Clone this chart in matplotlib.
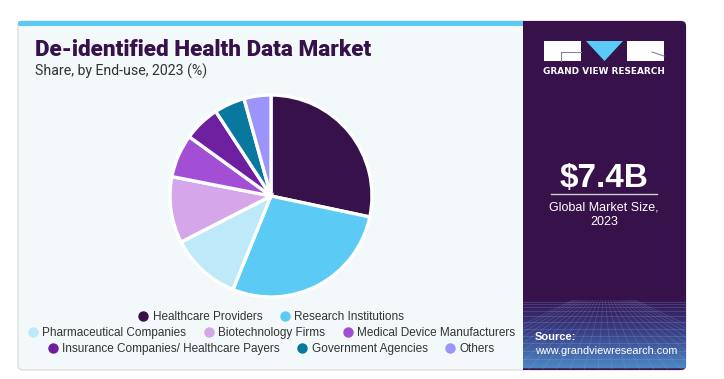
import numpy as np
import matplotlib.pyplot as plt
from matplotlib.patches import Rectangle, FancyBboxPatch, Polygon
from matplotlib.lines import Line2D
from matplotlib.colors import LinearSegmentedColormap

# data (share %)
segments = ["Healthcare Providers", "Research Institutions", "Pharmaceutical Companies",
            "Biotechnology Firms", "Medical Device Manufacturers",
            "Insurance Companies/ Healthcare Payers", "Government Agencies", "Others"]
shares = [28.3, 27.8, 11.3, 10.6, 6.9, 5.8, 4.9, 4.3]
colors = ["#37114A", "#5BCBF5", "#BDE9F9", "#D5A6EA", "#A24FD6", "#6E1FA0", "#08789E", "#9B94FA"]
legend_rows = [[0, 1], [2, 3, 4], [5, 6, 7]]

W, H = 724, 379
plt.rcParams['font.family'] = ['Liberation Sans', 'DejaVu Sans']
fig = plt.figure(figsize=(W / 100, H / 100), dpi=100)
fig.patch.set_facecolor("white")

# background layer in pixel coords
bg = fig.add_axes([0, 0, 1, 1])
bg.set_xlim(0, W)
bg.set_ylim(H, 0)
bg.axis("off")

bg.add_patch(FancyBboxPatch((18, 21), 668, 349, boxstyle="round,pad=0,rounding_size=5",
                            fc="#F3F8FB", ec="#D4D8DC", lw=0.8))
panel = FancyBboxPatch((523, 21), 163, 349, boxstyle="round,pad=0,rounding_size=5",
                       fc="#37114A", ec="none")
bg.add_patch(panel)
bg.add_patch(Rectangle((523, 21), 10, 349, fc="#37114A", ec="none"))
bg.add_patch(FancyBboxPatch((18, 21), 505, 5, boxstyle="round,pad=0,rounding_size=2",
                            fc="#5BCBF5", ec="none"))
bg.add_patch(Rectangle((30, 21), 493, 5, fc="#5BCBF5", ec="none"))

# bottom gradient of the side panel
clip = Rectangle((523, 290), 163, 80, transform=bg.transData)
cmap = LinearSegmentedColormap.from_list("g", ["#37114A", "#3B3F86", "#4C86C4"])
grad = np.linspace(0, 1, 100).reshape(-1, 1)
im = bg.imshow(grad, extent=(523, 686, 368, 296), cmap=cmap, aspect="auto", zorder=1)
for k in range(12):
    yy = 302 + 66 * (k / 11) ** 1.5
    ln, = bg.plot([523, 686], [yy, yy], color="#8FB6E6", lw=0.5, alpha=0.3, zorder=2)
    ln.set_clip_path(clip)
for xx in np.linspace(430, 780, 26):
    ln, = bg.plot([604, xx], [285, 370], color="#8FB6E6", lw=0.5, alpha=0.25, zorder=2)
    ln.set_clip_path(clip)
bg.add_patch(Rectangle((523, 282), 163, 18, fc="#37114A", ec="none", zorder=2))

# titles
bg.text(35, 50, "De-identified Health Data Market", fontsize=16.2, fontweight="heavy",
        color="#37114A", va="center", ha="left", family=["Roboto", "DejaVu Sans"])
bg.text(35, 71, "Share, by End-use, 2023 (%)", fontsize=10.2, color="#333333",
        va="center", ha="left", family=["Roboto", "DejaVu Sans"])

# logo
bg.add_patch(Rectangle((544, 41), 37, 20, fc="white", ec="none", zorder=3))
bg.add_patch(Polygon([[586, 41], [623, 41], [604.5, 61]], fc="#5BCBF5", ec="none", zorder=3))
bg.add_patch(Rectangle((627, 41), 37, 20, fc="white", ec="none", zorder=3))
bg.plot([561, 581], [52, 52], color="#8A7F98", lw=0.8, zorder=4)
bg.plot([561, 561], [52, 61], color="#8A7F98", lw=0.8, zorder=4)
bg.plot([652, 664], [52, 56], color="#8A7F98", lw=0.8, zorder=4)
bg.text(604, 72, "GRAND VIEW RESEARCH", fontsize=6.4, fontweight="bold", color="white",
        ha="center", va="center", zorder=4, family=["DejaVu Sans"])

# market size
bg.text(604, 178, "$7.4B", fontsize=24, fontweight="bold", color="white",
        ha="center", va="center", zorder=4)
bg.plot([551, 657], [194, 194], color="#CCCCCC", lw=1, zorder=4)
bg.text(604, 207, "Global Market Size,", fontsize=9, color="white", ha="center", va="center", zorder=4)
bg.text(604, 222, "2023", fontsize=9, color="white", ha="center", va="center", zorder=4)
bg.text(535, 337, "Source:", fontsize=8, fontweight="bold", color="white", ha="left", va="center", zorder=4)
bg.text(535, 351, "www.grandviewresearch.com", fontsize=7.8, color="white", ha="left", va="center", zorder=4)

# pie
cx, cy, r = 271, 196, 101
ax = fig.add_axes([(cx - r) / W, (H - cy - r) / H, 2 * r / W, 2 * r / H])
ax.pie(shares, colors=colors, startangle=90, counterclock=False,
       wedgeprops=dict(edgecolor="white", linewidth=2.4))
ax.set_xlim(-1, 1)
ax.set_ylim(-1, 1)
ax.set_aspect("equal")
ax.axis("off")

# legend rows, centred
row_y = [317, 333, 349]
for row, yy in zip(legend_rows, row_y):
    handles = [Line2D([], [], marker="o", ls="none", markersize=7.5, markerfacecolor=colors[i],
                      markeredgecolor="none") for i in row]
    leg = fig.legend(handles, [segments[i] for i in row], ncol=len(row), frameon=False,
                     loc="center", bbox_to_anchor=(271 / W, 1 - yy / H), fontsize=8.5,
                     handletextpad=0.3, columnspacing=1.4, handlelength=1.0,
                     borderpad=0, borderaxespad=0)
    for t in leg.get_texts():
        t.set_color("#333333")

fig.savefig("out.png", dpi=100)
